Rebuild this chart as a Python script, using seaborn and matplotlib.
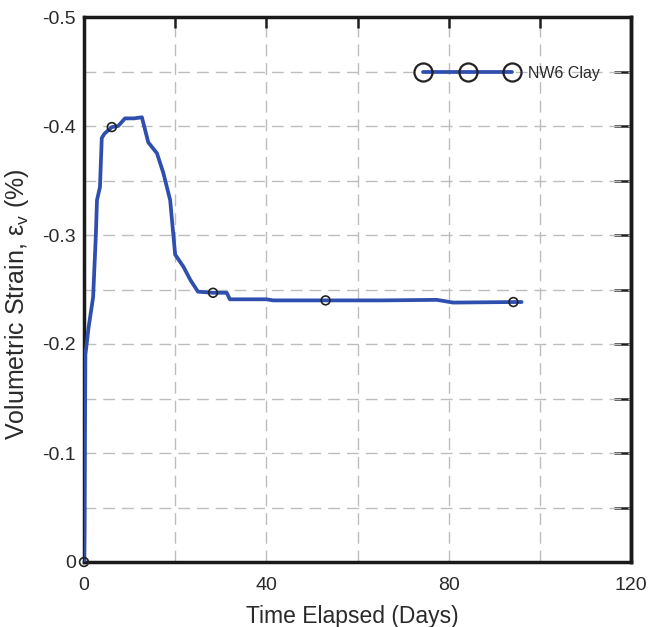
import numpy as np
import pandas as pd
import matplotlib
matplotlib.use("Agg")
import matplotlib.pyplot as plt
from matplotlib.lines import Line2D
import seaborn as sns

# ---- data ----
days = [0.0, 0.1, 0.3, 1.0, 2.0, 2.6, 2.85, 3.5, 3.9, 4.5, 6.1, 7.5, 9.0, 11.0, 12.7,
        14.1, 16.0, 17.4, 18.9, 20.0, 21.8, 23.3, 25.0, 28.3, 31.3, 32.0, 40.0,
        41.5, 53.0, 65.0, 77.4, 81.0, 94.2, 96.0]
strain = [0.0, -0.03, -0.19, -0.215, -0.243, -0.30, -0.332, -0.344, -0.389, -0.393,
          -0.399, -0.400, -0.407, -0.407, -0.408, -0.385, -0.375, -0.357, -0.332,
          -0.282, -0.271, -0.259, -0.248, -0.247, -0.247, -0.241, -0.241, -0.240,
          -0.240, -0.240, -0.2405, -0.238, -0.2385, -0.2385]
marker_days = [0.0, 6.1, 28.3, 53.0, 94.2]
marker_strain = [0.0, -0.399, -0.247, -0.240, -0.2385]
series_name = "NW6 Clay"
x_ticks = [0, 40, 80, 120]
x_minor = [20, 60, 100]
y_ticks = [0.0, -0.1, -0.2, -0.3, -0.4, -0.5]
y_minor = [-0.05, -0.15, -0.25, -0.35, -0.45]

sns.set_style("white")
plt.rcParams['font.family'] = ['Liberation Sans', 'DejaVu Sans']
plt.rcParams['axes.unicode_minus'] = False
plt.rcParams['mathtext.fontset'] = 'custom'
plt.rcParams['mathtext.rm'] = 'Liberation Sans'
plt.rcParams['mathtext.it'] = 'Liberation Sans:italic'

line_color = "#2f4fae"
text_color = "#2a2a2a"
tick_color = "#1e1e1e"

fig = plt.figure(figsize=(6.49, 6.27), dpi=100)
ax = fig.add_axes([84/649, 65/627, 547/649, 545/627])

df = pd.DataFrame({"days": days, "strain": strain})
mdf = pd.DataFrame({"days": marker_days, "strain": marker_strain})
sns.lineplot(data=df, x="days", y="strain", ax=ax, color=line_color, lw=2.7,
             sort=False, estimator=None, zorder=3)
sns.scatterplot(data=mdf, x="days", y="strain", ax=ax, marker="o", s=40,
                facecolor="none", edgecolor="#222222", linewidth=1.2, zorder=4,
                clip_on=False)

ax.set_xlim(0, 120)
ax.set_ylim(0, -0.5)
ax.set_xticks(x_ticks)
ax.set_xticklabels([str(t) for t in x_ticks])
ax.set_xticks(x_minor, minor=True)
ax.set_yticks(y_ticks)
ax.set_yticklabels(["0" if t == 0 else f"{t:.1f}" for t in y_ticks])
ax.set_yticks(y_minor, minor=True)

ax.grid(True, which="both", color="#bdbdbd", linestyle=(0, (8.5, 5)), linewidth=1.0)
ax.set_axisbelow(True)
ax.tick_params(which="both", direction="in", top=True, right=False,
               length=8, width=1.8, color=tick_color)
ax.tick_params(axis="x", which="major", labelsize=14, pad=11, labelcolor=text_color)
ax.tick_params(axis="y", which="major", labelsize=14, pad=6, labelcolor=text_color)

sec = ax.secondary_yaxis("right")
sec.set_yticks(y_ticks + y_minor)
sec.set_yticklabels([])
sec.tick_params(direction="in", length=12, width=1.8, color=tick_color)
sec.spines["right"].set_linewidth(2.5)
sec.spines["right"].set_color("#1a1a1a")

for s in ax.spines.values():
    s.set_visible(True)
    s.set_color("#1a1a1a")
    s.set_linewidth(2.5)

ax.set_xlabel("Time Elapsed (Days)", fontsize=16.5, color=text_color)
ax.xaxis.set_label_coords(0.49, -0.079)
ax.set_ylabel("Volumetric Strain, ε$_\\mathregular{v}$ (%)", fontsize=18,
              color=text_color)
ax.yaxis.set_label_coords(-0.097, 0.4725)

handle = Line2D([], [], color=line_color, lw=2.7, marker="o", markersize=13,
                markerfacecolor="none", markeredgecolor="#222222", markeredgewidth=1.6)
ax.legend([handle], [series_name], loc="center left", frameon=False, numpoints=3,
          handlelength=6.2, fontsize=11.5, bbox_to_anchor=(0.611, 0.897),
          borderaxespad=0, borderpad=0, handletextpad=0.7, labelcolor=text_color)

fig.savefig("out.png", dpi=100)
